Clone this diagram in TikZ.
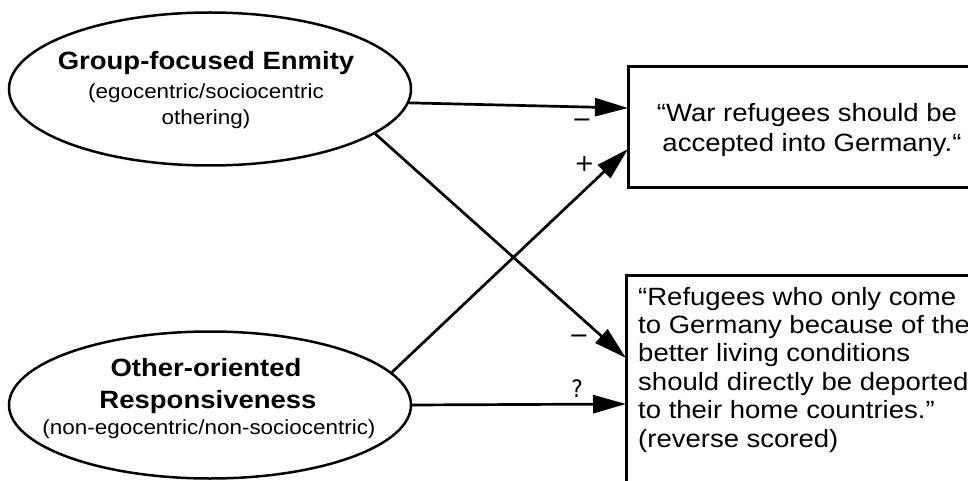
\documentclass[tikz,border=0pt]{standalone}
\usepackage{fontspec}
\setmainfont{Liberation Sans}[FakeStretch=1.1]
\newfontfamily\lblfont{DejaVu Sans}
\newfontfamily\qfont{DejaVu Sans Condensed}
\usetikzlibrary{shapes.geometric,arrows.meta}
\begin{document}
\begin{tikzpicture}[x=1pt,y=-1pt,
  oval/.style={ellipse,draw,line width=2.5pt,inner sep=0pt,outer sep=0pt,minimum width=402pt},
  itembox/.style={rectangle,draw,line width=3pt,inner sep=0pt,outer sep=0pt},
  ttl/.style={anchor=base,inner sep=0pt,font=\bfseries\fontsize{25}{30}\selectfont},
  sub/.style={anchor=base,inner sep=0pt,font=\fontsize{20.4}{25}\selectfont},
  itm/.style={anchor=base,inner sep=0pt,font=\fontsize{25}{30}\selectfont},
  itml/.style={anchor=base west,inner sep=0pt,font=\fontsize{25}{30}\selectfont},
  lbl/.style={inner sep=0pt},
  link/.style={line width=2.7pt,-{Triangle[length=33pt,width=18pt]}}
]
\useasboundingbox (0,0) rectangle (968,481);
% shapes
\node[oval,minimum height=153pt] (ge) at (210,89) {};
\node[oval,minimum height=147pt] (oe) at (210,405) {};
\node[itembox,minimum width=362pt,minimum height=121pt] (tb) at (809,127.2) {};
\node[itembox,minimum width=364pt,minimum height=220pt] (bb) at (808,385) {};
% ellipse texts
\node[ttl] (g1) at (206,70) {Group-focused Enmity};
\node[sub] (g2) at (206,98.5) {(egocentric/sociocentric};
\node[sub] (g3) at (206,124.5) {othering)};
\node[ttl] (o1) at (206,376) {Other-oriented};
\node[ttl] (o2) at (208,408) {Responsiveness};
\node[sub] (o3) at (209,434) {(non-egocentric/non-sociocentric)};
% box texts
\node[itm] (t1) at (807,122) {“War refugees should be};
\node[itm] (t2) at (812,152) {accepted into Germany.“};
\foreach \t [count=\i] in {“Refugees who only come,to Germany because of the,better living conditions,should directly be deported,to their home countries.”,(reverse scored)}
  \node[itml] (r\i) at (638,{305+28.4*(\i-1)}) {\t};
% connectors
\draw[link] (ge.-4) -- ([yshift=19.2pt]tb.west);
\draw[link] (ge.-15) -- ([yshift=27pt]bb.west);
\draw[link] (oe.10) -- ([yshift=-21.8pt]tb.west);
\draw[link] (oe.east) -- ([yshift=-19pt]bb.west);
% labels
\node[lbl] (m1) at (582,123) {\fontsize{24}{28}\selectfont\lblfont −};
\node[lbl] (p1) at (584.5,164) {\fontsize{24}{28}\selectfont\lblfont +};
\node[lbl] (m2) at (579,339) {\fontsize{24}{28}\selectfont\lblfont −};
\node[lbl] (q1) at (577,389) {\fontsize{24}{28}\selectfont\qfont ?};
\end{tikzpicture}
\end{document}
